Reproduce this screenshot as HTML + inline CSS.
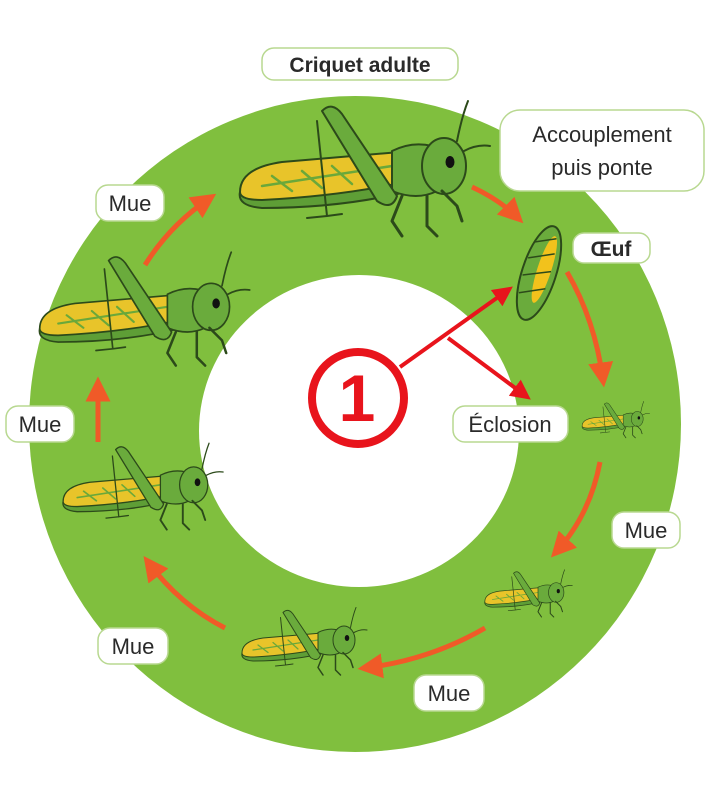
<!DOCTYPE html>
<html><head><meta charset="utf-8"><style>
html,body{margin:0;padding:0;background:#fff;}
svg{display:block;}
text{font-family:"Liberation Sans","DejaVu Sans",sans-serif;fill:#2a2a2a;}
</style></head><body>
<svg width="707" height="800" viewBox="0 0 707 800" xmlns="http://www.w3.org/2000/svg">
<defs>
<marker id="oa" markerWidth="5" markerHeight="5" refX="3.5" refY="2.5" orient="auto" markerUnits="strokeWidth">
<path d="M0,0 L5,2.5 L0,5 Z" fill="#f05a28"/></marker>
<marker id="ra" markerWidth="5" markerHeight="5" refX="3.5" refY="2.5" orient="auto" markerUnits="strokeWidth">
<path d="M0,0 L5,2.5 L0,5 Z" fill="#e8141c"/></marker>
<g id="gh" stroke="#2c4a1a" stroke-width="2" stroke-linejoin="round" stroke-linecap="round">
<path d="M8,96 Q5,110 30,112 Q110,112 178,95 L175,82 Z" fill="#5e9e36"/>
<path d="M8,96 Q8,72 50,66 L168,56 L178,85 Q110,100 30,104 Q8,104 8,96Z" fill="#e8c42a"/>
<path d="M30,90 L160,70 M40,80 L60,95 M70,75 L90,92 M100,70 L120,88 M130,66 L150,84" stroke="#6aa83a" stroke-width="2.5" fill="none"/>
<path d="M160,55 Q180,45 200,50 L205,95 Q185,105 160,95 Z" fill="#6aab3c"/>
<ellipse cx="212" cy="70" rx="22" ry="28" fill="#6aab3c"/>
<ellipse cx="218" cy="66" rx="4.5" ry="6" fill="#111" stroke="none"/>
<path d="M225,45 Q230,20 236,5 M232,55 Q245,48 258,50" fill="none"/>
<path d="M90,15 Q100,5 110,18 L165,100 Q160,115 145,105 Z" fill="#6aab3c"/>
<path d="M85,25 L95,120 L75,122 M95,120 L110,118" fill="none"/>
<path d="M170,100 L160,125 L170,140 M195,100 L195,130 L205,140 M210,95 L225,110 L230,125" fill="none" stroke-width="3"/>
</g>
</defs>
<rect width="707" height="800" fill="#fff"/>
<ellipse cx="355" cy="424" rx="326" ry="328" fill="#80bf3e"/>
<ellipse cx="359" cy="431" rx="160" ry="156" fill="#fff"/>

<g stroke="#f05a28" stroke-width="5" fill="none" marker-end="url(#oa)">
<path d="M472,187 Q500,200 518,218"/>
<path d="M567,272 Q595,320 603,380"/>
<path d="M600,462 Q590,515 556,552"/>
<path d="M485,628 Q430,660 365,668"/>
<path d="M225,628 Q180,605 148,562"/>
<path d="M98,442 L98,384"/>
<path d="M145,265 Q170,225 210,198"/>
</g>

<use href="#gh" transform="translate(232,96) scale(1.0)"/>
<use href="#gh" transform="translate(33,248) scale(0.84)"/>
<use href="#gh" transform="translate(58,440) scale(0.64)"/>
<use href="#gh" transform="translate(238,605) scale(0.5)"/>
<use href="#gh" transform="translate(482,568) scale(0.35)"/>
<use href="#gh" transform="translate(580,400) scale(0.27)"/>

<g transform="rotate(18 539 273)">
<ellipse cx="539" cy="273" rx="17" ry="49" fill="#6aab3c" stroke="#2c4a1a" stroke-width="2"/>
<ellipse cx="543" cy="268" rx="7" ry="35" fill="#f2c21c"/>
<path d="M525,245 L545,235 M524,262 L548,250 M524,280 L550,268 M526,298 L550,286" stroke="#2c4a1a" stroke-width="1.5"/>
</g>

<circle cx="358" cy="398" r="46" fill="none" stroke="#e8141c" stroke-width="8"/>
<text x="357" y="421" text-anchor="middle" font-size="66" font-weight="bold" style="fill:#e8141c">1</text>
<g stroke="#e8141c" stroke-width="4" fill="none">
<path d="M400,367 L508,290" marker-end="url(#ra)"/>
<path d="M448,338 L526,396" marker-end="url(#ra)"/>
</g>

<g fill="#fff" stroke="#b8d890" stroke-width="1.5">
<rect x="262" y="48" width="196" height="32" rx="12"/>
<rect x="500" y="110" width="204" height="81" rx="20"/>
<rect x="573" y="233" width="77" height="30" rx="11"/>
<rect x="453" y="406" width="115" height="36" rx="12"/>
<rect x="612" y="512" width="68" height="36" rx="12"/>
<rect x="414" y="675" width="70" height="36" rx="12"/>
<rect x="98" y="628" width="70" height="36" rx="12"/>
<rect x="6" y="406" width="68" height="36" rx="12"/>
<rect x="96" y="185" width="68" height="36" rx="12"/>
</g>
<text x="360" y="72" text-anchor="middle" font-size="21" font-weight="bold">Criquet adulte</text>
<text x="602" y="142" text-anchor="middle" font-size="22">Accouplement</text>
<text x="602" y="175" text-anchor="middle" font-size="22">puis ponte</text>
<text x="611" y="256" text-anchor="middle" font-size="21" font-weight="bold">Œuf</text>
<text x="510" y="432" text-anchor="middle" font-size="22">Éclosion</text>
<text x="646" y="538" text-anchor="middle" font-size="22">Mue</text>
<text x="449" y="701" text-anchor="middle" font-size="22">Mue</text>
<text x="133" y="654" text-anchor="middle" font-size="22">Mue</text>
<text x="40" y="432" text-anchor="middle" font-size="22">Mue</text>
<text x="130" y="211" text-anchor="middle" font-size="22">Mue</text>
</svg>
</body></html>
